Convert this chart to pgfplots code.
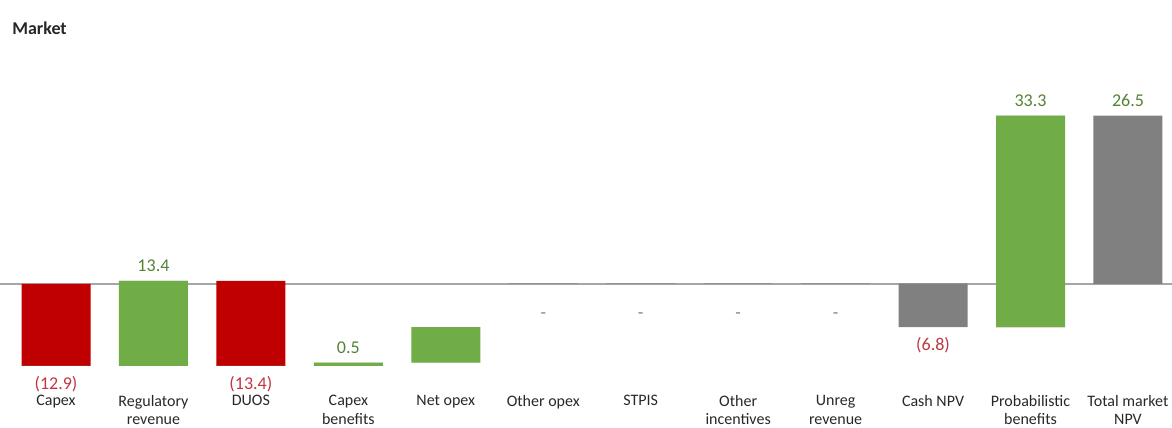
\documentclass[border=0pt]{standalone}
\usepackage{pgfplots}
\usepackage{pgfplotstable}
\pgfplotsset{compat=1.18}
\usepackage{fontspec}
\setmainfont{Carlito}

\definecolor{barRed}{RGB}{192,0,0}
\definecolor{barGreen}{RGB}{112,173,71}
\definecolor{barGray}{RGB}{128,128,128}
\definecolor{zeroLine}{RGB}{166,166,166}
\definecolor{labRed}{RGB}{190,55,65}
\definecolor{labGreen}{RGB}{84,130,53}
\definecolor{tickText}{RGB}{40,40,40}

% waterfall: invisible base, then the visible step in its colour
\pgfplotstableread{
x base red green gray
0 0 -12.9 0 0
1 -12.9 0 13.4 0
2 0.5 -13.4 0 0
3 -12.9 0 0.5 0
4 -12.4 0 5.6 0
5 0 0 0 0
6 0 0 0 0
7 0 0 0 0
8 0 0 0 0
9 0 0 0 -6.8
10 -6.8 0 33.3 0
11 0 0 0 26.5
}\bars

% value labels above positive steps
\pgfplotstableread{
x y lab
1 0.5 13.4
3 -12.4 0.5
10 26.5 33.3
11 26.5 26.5
}\poslabels

% value labels below negative steps
\pgfplotstableread{
x y lab
0 -12.9 (12.9)
2 -12.9 (13.4)
9 -6.8 (6.8)
}\neglabels

% empty steps, marked at the running total
\pgfplotstableread{
x y lab
5 -6.8 -
6 -6.8 -
7 -6.8 -
8 -6.8 -
}\dashlabels

\pgfplotsset{
  step bar/.style={ybar, bar shift=0pt, bar width=34.5pt, stack plots=y, draw=none},
  value label/.style n args={3}{ybar, bar shift=0pt, draw=none, fill=none,
    nodes near coords, point meta=explicit symbolic,
    every node near coord/.append style={anchor=#1, text=#2, yshift=#3,
      font=\fontsize{9}{10}\selectfont, inner sep=2pt}},
}

\begin{document}
\begin{tikzpicture}
\begin{axis}[
  scale only axis, width=586pt, height=214pt,
  xmin=-0.5747, xmax=11.452, ymin=-22.68, ymax=44.72,
  clip=false,
  axis line style={draw=none}, tick style={draw=none},
  ytick=\empty,
  extra y ticks={0}, extra y tick labels={},
  extra y tick style={grid=major, major grid style={draw=zeroLine, line width=0.8pt}},
  xtick={0,...,11},
  xticklabels={Capex, {Regulatory\\revenue}, DUOS, {Capex\\benefits}, Net opex, Other opex, STPIS, {Other\\incentives}, {Unreg\\revenue}, Cash NPV, {Probabilistic\\benefits}, {Total market\\NPV}},
  xticklabel style={align=center, font=\fontsize{8}{9.4}\selectfont, yshift=20pt, text=tickText},
]
\addplot[step bar, fill=none] table[x=x, y=base] {\bars};
\addplot[step bar, fill=barRed] table[x=x, y=red] {\bars};
\addplot[step bar, fill=barGreen] table[x=x, y=green] {\bars};
\addplot[step bar, fill=barGray] table[x=x, y=gray] {\bars};

\addplot[stack plots=false, value label={south}{labGreen}{2.2pt}] table[x=x, y=y, meta=lab] {\poslabels};
\addplot[stack plots=false, value label={north}{labRed}{-3pt}] table[x=x, y=y, meta=lab] {\neglabels};
\addplot[stack plots=false, value label={south}{barGray}{2pt}] table[x=x, y=y, meta=lab] {\dashlabels};

\node[anchor=west, font=\bfseries\fontsize{9}{10}\selectfont, text=black!85] at (rel axis cs:0.0045,0.9346) {Market};
\end{axis}
\pgfresetboundingbox
\path[use as bounding box] (current axis.south west) rectangle (current axis.north east);
\end{tikzpicture}
\end{document}
